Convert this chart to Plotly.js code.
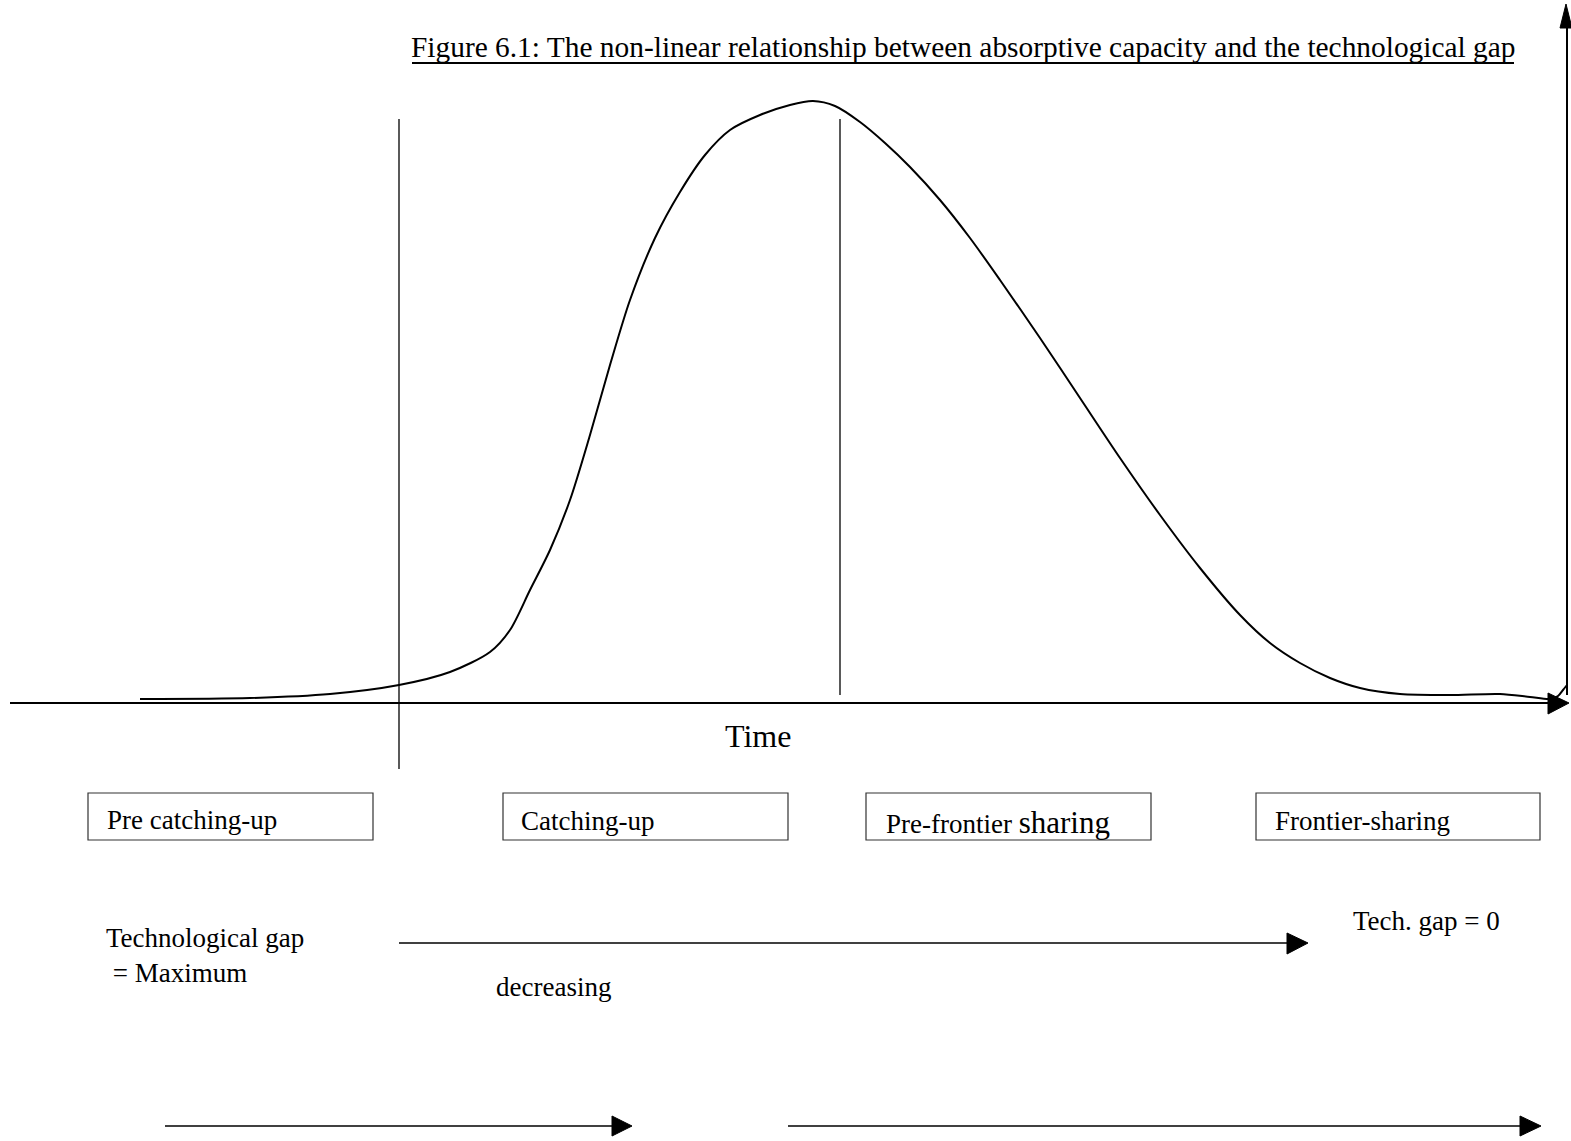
<!DOCTYPE html>
<html>
<head>
<meta charset="utf-8">
<script src="https://cdn.plot.ly/plotly-3.0.1.min.js"></script>
<style>html,body{margin:0;padding:0;background:#fff;}#chart{width:1571px;height:1141px;}</style>
</head>
<body>
<div id="chart"></div>
<script>
// Absorptive capacity curve over time (diagram coordinates, y grows downward)
const curveTime = [140,250,330,399,450,490,510,530,550,570,590,610,630,655,680,705,730,760,790,813,835,860,885,910,940,970,1000,1040,1080,1120,1160,1200,1240,1270,1300,1330,1360,1400,1450,1500,1530,1550,1558,1563,1567];
const curveCapacity = [699,698,694,685,672,652,630,590,550,500,435,365,300,238,192,155,130,115,105,101,106,122,143,167,200,238,280,338,398,458,515,568,615,643,663,678,688,694,695,694,697,699,696,690,685];

const stageLabels = ["Pre catching-up", "Catching-up", "Pre-frontier <span style=\"font-size:31px\">sharing</span>", "Frontier-sharing"];
const titleText = "Figure 6.1: The non-linear relationship between absorptive capacity and the technological gap";
const axisLabel = "Time";
const gapStart = "Technological gap<br> = Maximum";
const gapTrend = "decreasing";
const gapEnd = "Tech. gap = 0";

const FONT = "Liberation Serif, Times New Roman, serif";
const boxX = [[88,373],[503,788],[866,1151],[1256,1540]];

const shapes = [];
const line = (x0,y0,x1,y1,w,c) => shapes.push({type:'line',xref:'x',yref:'y',x0,y0,x1,y1,line:{color:c||'#000',width:w||1.5}});
const tri = (d) => shapes.push({type:'path',xref:'x',yref:'y',path:d,fillcolor:'#000',line:{color:'#000',width:1}});

// axes
line(10,703,1550,703,2);
tri('M1548,693 L1569,703 L1548,714 Z');
line(1567,695,1567,25,2);
tri('M1560,28 L1566,4 L1572,28 Z');
// vertical separators
line(399,119,399,769,1.3);
line(840,119,840,695,1.3);
// title underline
line(412,63,1514,63,1.8);
// stage boxes
boxX.forEach(b => shapes.push({type:'rect',xref:'x',yref:'y',x0:b[0],x1:b[1],y0:793,y1:840,line:{color:'#333',width:1.2},fillcolor:'rgba(0,0,0,0)'}));
// gap arrows
line(399,943,1290,943,1.5);
tri('M1287,933 L1308,943 L1287,954 Z');
line(165,1126,615,1126,1.5);
tri('M612,1116 L632,1126 L612,1136 Z');
line(788,1126,1522,1126,1.5);
tri('M1520,1116 L1541,1126 L1520,1136 Z');

const ann = (x,y,text,size,xanchor) => ({x,y,xref:'x',yref:'y',text,showarrow:false,xanchor:xanchor||'left',yanchor:'middle',align:'left',font:{family:FONT,size:size||27,color:'#000'}});
const annotations = [
  ann(409,47,titleText,29.4),
  ann(758,736,axisLabel,32,'center'),
  ann(105,820,stageLabels[0]),
  ann(519,821,stageLabels[1]),
  ann(884,822,stageLabels[2]),
  ann(1273,821,stageLabels[3]),
  ann(104,955,gapStart),
  ann(494,987,gapTrend),
  ann(1351,921,gapEnd)
];

const trace = {x:curveTime, y:curveCapacity, type:'scatter', mode:'lines', line:{color:'#000',width:2,shape:'spline',smoothing:0.8}, hoverinfo:'skip'};

Plotly.newPlot('chart',[trace],{
  width:1571,height:1141,
  margin:{l:0,r:0,t:0,b:0},
  paper_bgcolor:'#fff',plot_bgcolor:'#fff',
  showlegend:false,
  xaxis:{range:[0,1571],visible:false,fixedrange:true},
  yaxis:{range:[1141,0],visible:false,fixedrange:true},
  shapes,annotations
},{staticPlot:true});
</script>
</body>
</html>
